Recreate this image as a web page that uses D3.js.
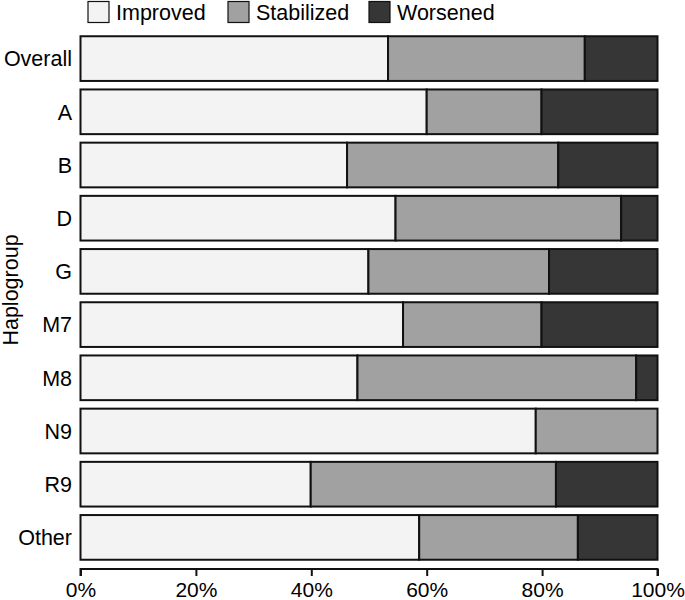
<!DOCTYPE html>
<html>
<head>
<meta charset="utf-8">
<script src="https://cdn.jsdelivr.net/npm/d3@7"></script>
<style>
  body { margin: 0; background: #fff; }
  text { font-family: "Liberation Sans", Arial, sans-serif; fill: #000; }
</style>
</head>
<body>
<div id="chart"></div>
<script>
// haplogroups, top to bottom
var groups = ["Overall", "A", "B", "D", "G", "M7", "M8", "N9", "R9", "Other"];
// percentages
var improved   = [53.3, 60.0, 46.2, 54.6, 49.9, 55.9, 48.0, 78.9, 39.9, 58.7];
var stabilized = [34.1, 19.9, 36.6, 39.1, 31.3, 24.0, 48.3, 21.1, 42.5, 27.5];
var worsened   = [12.6, 20.1, 17.2,  6.3, 18.8, 20.1,  3.7,  0.0, 17.6, 13.8];
var outcomes = ["Improved", "Stabilized", "Worsened"];
var colors = ["#f3f3f3", "#a1a1a1", "#363636"];
var xTicks = [0, 20, 40, 60, 80, 100];

var width = 685, height = 600;

var svg = d3.select("#chart").append("svg")
    .attr("width", width)
    .attr("height", height);

var table = groups.map(function(g, i) {
  return {group: g, Improved: improved[i], Stabilized: stabilized[i], Worsened: worsened[i]};
});
var series = d3.stack().keys(outcomes)(table);

var xScale = d3.scaleLinear().domain([0, 100]).range([80.5, 657.5]);
var yScale = d3.scaleBand().domain(groups).range([32, 564])
    .paddingInner(0.16).paddingOuter(0.08);
var color = d3.scaleOrdinal().domain(outcomes).range(colors);

// bars
svg.append("g").selectAll("g")
  .data(series)
  .enter().append("g")
    .attr("fill", d => color(d.key))
  .selectAll("rect")
  .data(d => d)
  .enter().append("rect")
    .attr("x", d => xScale(d[0]))
    .attr("y", d => yScale(d.data.group))
    .attr("width", d => xScale(d[1]) - xScale(d[0]))
    .attr("height", yScale.bandwidth())
    .attr("stroke", "#111")
    .attr("stroke-width", 2);

// y labels
svg.append("g").selectAll("text")
  .data(groups)
  .enter().append("text")
    .attr("x", 72)
    .attr("y", d => yScale(d) + yScale.bandwidth() / 2)
    .attr("dy", "0.36em")
    .attr("text-anchor", "end")
    .style("font-size", "21.5px")
    .text(d => d);

svg.append("text")
    .attr("transform", "translate(18,290) rotate(-90)")
    .attr("text-anchor", "middle")
    .style("font-size", "21.5px")
    .text("Haplogroup");

// x axis
var xAxis = d3.axisBottom(xScale)
    .tickValues(xTicks)
    .tickFormat(d => d + "%")
    .tickSize(7)
    .tickPadding(6);

var gx = svg.append("g")
    .attr("transform", "translate(0,569)")
    .call(xAxis);
gx.select(".domain").attr("stroke", "#111").attr("stroke-width", 2)
    .attr("d", "M" + xScale(0) + ",7V0H" + xScale(100) + "V7");
gx.selectAll(".tick line").attr("stroke", "#111").attr("stroke-width", 2);
gx.selectAll(".tick text")
    .style("font-size", "21px")
    .style("font-family", "'Liberation Sans', Arial, sans-serif")
    .attr("fill", "#000");

// legend
var legendX = [88, 228, 369];
var legend = svg.append("g").selectAll("g")
  .data(outcomes)
  .enter().append("g")
    .attr("transform", (d, i) => "translate(" + legendX[i] + ",1.5)");
legend.append("rect")
    .attr("width", 21)
    .attr("height", 21)
    .attr("fill", d => color(d))
    .attr("stroke", "#111")
    .attr("stroke-width", 1.2);
legend.append("text")
    .attr("x", 28)
    .attr("y", 11)
    .attr("dy", "0.36em")
    .style("font-size", "21.5px")
    .text(d => d);
</script>
</body>
</html>
